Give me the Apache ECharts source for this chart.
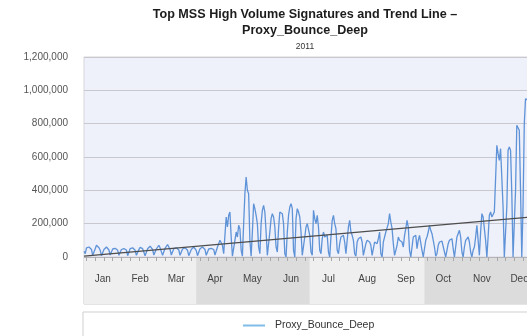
<!DOCTYPE html>
<html>
<head>
<meta charset="utf-8">
<script src="https://cdn.jsdelivr.net/npm/echarts@6/dist/echarts.min.js"></script>
<style>
  html, body { margin: 0; padding: 0; background: #ffffff; }
  #chart { width: 527px; height: 336px; }
</style>
</head>
<body>
<div id="chart"></div>
<script>
// Daily volume of the Proxy_Bounce_Deep signature, 2011, one array per month
const jan = [35000,20000,55000,65000,60000,50000,45000,10000,8000,50000,70000,60000,55000,40000,8000,10000,45000,55000,60000,50000,42000,12000,8000,48000,58000,52000,45000,40000,10000,6000,45000];
const feb = [55000,50000,48000,42000,8000,12000,50000,60000,55000,48000,40000,10000,6000,45000,58000,62000,50000,42000,8000,10000,50000,55000,65000,55000,45000,12000,8000,48000];
const mar = [60000,70000,55000,45000,10000,8000,52000,62000,75000,60000,45000,12000,8000,50000,60000,55000,50000,42000,10000,6000,48000,58000,55000,45000,40000,8000,10000,45000,55000,60000,50000];
const apr = [40000,8000,6000,50000,55000,60000,52000,45000,10000,8000,48000,55000,52000,50000,45000,12000,10000,60000,80000,100000,90000,70000,20000,10000,240000,180000,250000,270000,120000,5000];
const may = [10000,100000,150000,120000,190000,170000,40000,5000,200000,380000,480000,400000,380000,100000,5000,150000,320000,290000,250000,200000,60000,20000,200000,280000,310000,270000,150000,10000,0,150000,230000];
const jun = [260000,240000,180000,60000,30000,170000,270000,280000,260000,200000,20000,0,150000,250000,300000,320000,290000,40000,0,230000,290000,270000,240000,150000,10000,0,120000,180000,200000,190000];
const jul = [130000,30000,10000,280000,230000,200000,250000,180000,40000,20000,110000,150000,120000,130000,130000,30000,0,120000,220000,250000,200000,170000,40000,20000,80000,120000,130000,130000,90000,20000,30000];
const aug = [180000,220000,150000,130000,100000,20000,5000,90000,110000,100000,120000,90000,10000,0,80000,100000,110000,90000,70000,10000,0,90000,100000,80000,110000,150000,20000,0,90000,120000,150000];
const sep = [150000,200000,260000,210000,170000,80000,10000,0,70000,120000,100000,110000,90000,60000,130000,170000,220000,180000,40000,0,60000,120000,110000,130000,50000,100000,130000,120000,40000,0];
const oct = [0,100000,120000,150000,190000,160000,140000,130000,60000,5000,20000,70000,90000,80000,95000,85000,30000,0,40000,80000,100000,90000,110000,50000,0,60000,120000,110000,160000,120000,30000];
const nov = [0,60000,100000,110000,120000,90000,30000,0,40000,60000,120000,190000,100000,10000,150000,260000,240000,250000,100000,0,120000,250000,270000,240000,250000,270000,260000,670000,620000,580000];
const dec = [650000,640000,300000,0,10000,300000,640000,660000,640000,380000,0,10000,400000,790000,780000,760000,400000,0,300000,800000,950000,960000,940000,900000,500000,20000,10000,300000,400000,350000,300000];

// Trend line end points (first and last day of the year)
const trendStart = 5000;
const trendEnd = 243000;

const monthNames = ['Jan','Feb','Mar','Apr','May','Jun','Jul','Aug','Sep','Oct','Nov','Dec'];
const yTicks = [0, 200000, 400000, 600000, 800000, 1000000, 1200000];
const quarterStarts = ['2011-01-01','2011-04-01','2011-07-01','2011-10-01'];
const quarterShades = ['#efefef', '#dcdcdc', '#efefef', '#dcdcdc'];
const seriesName = 'Proxy_Bounce_Deep';

const volumes = [].concat(jan, feb, mar, apr, may, jun, jul, aug, sep, oct, nov, dec);

// one category per day of 2011
const days = [];
for (let i = 0; i < volumes.length; i++) {
  const d = new Date(Date.UTC(2011, 0, 1 + i));
  days.push(d.toISOString().slice(0, 10));
}
const lastDay = days[days.length - 1];

// month names sit at the middle day of each month
function isMidMonth(val) {
  const m = parseInt(val.slice(5, 7), 10);
  const day = parseInt(val.slice(8), 10);
  return m === 2 ? day === 15 : day === 16;
}

const quarterAreas = quarterStarts.map(function (start, i) {
  const end = i + 1 < quarterStarts.length ? quarterStarts[i + 1] : lastDay;
  return [{ xAxis: start, itemStyle: { color: quarterShades[i] } }, { xAxis: end }];
});

const font = 'Liberation Sans, Arial, Helvetica, sans-serif';
const plotLeft = 84;
const plotWidth = 454; // the year runs on past the right edge of the page

const chart = echarts.init(document.getElementById('chart'), null, { renderer: 'canvas' });

chart.setOption({
  animation: false,
  backgroundColor: '#ffffff',
  title: {
    text: 'Top MSS High Volume Signatures and Trend Line –\nProxy_Bounce_Deep',
    subtext: '2011',
    left: 300,
    top: 2,
    textAlign: 'center',
    itemGap: 3,
    textStyle: { fontFamily: font, fontSize: 12.6, fontWeight: 'bold', color: '#1c1c1c', lineHeight: 16 },
    subtextStyle: { fontFamily: font, fontSize: 8.5, color: '#333333', lineHeight: 10 }
  },
  legend: {
    data: [{ name: seriesName, icon: 'rect', itemStyle: { color: '#7fbde6' } }],
    left: 243,
    top: 320,
    padding: 0,
    itemWidth: 22,
    itemHeight: 2,
    textStyle: { fontFamily: font, fontSize: 10.5, color: '#333333', padding: [0, 0, 0, 5] }
  },
  grid: [
    { left: plotLeft, width: plotWidth, top: 57, height: 200, outerBoundsMode: 'none', containLabel: false, show: true, backgroundColor: '#eef0fa', borderColor: '#d6d6dc', borderWidth: 1 },
    { left: plotLeft, width: plotWidth, top: 258, height: 46, outerBoundsMode: 'none', containLabel: false, show: true, backgroundColor: '#efefef', borderColor: '#c9c9c9', borderWidth: 1 },
    { left: 83, width: 460, top: 312, height: 40, outerBoundsMode: 'none', containLabel: false, show: true, backgroundColor: '#ffffff', borderColor: '#cfcfcf', borderWidth: 1 }
  ],
  xAxis: [
    {
      gridIndex: 0,
      type: 'category',
      data: days,
      boundaryGap: false,
      z: 10,
      axisLine: { show: true, lineStyle: { color: '#b4b4b8', width: 1 } },
      axisTick: {
        show: true,
        length: 4,
        interval: function (idx) { return idx % 7 === 2; },
        lineStyle: { color: '#a8a8a8' }
      },
      axisLabel: {
        interval: function (idx, val) { return isMidMonth(val); },
        formatter: function (val) { return monthNames[parseInt(val.slice(5, 7), 10) - 1]; },
        margin: 17,
        fontFamily: font,
        fontSize: 10,
        color: '#444444'
      },
      splitLine: { show: false }
    },
    { gridIndex: 1, type: 'category', data: days, boundaryGap: false, show: false },
    { gridIndex: 2, type: 'value', show: false }
  ],
  yAxis: [
    {
      gridIndex: 0,
      type: 'value',
      min: yTicks[0],
      max: yTicks[yTicks.length - 1],
      interval: yTicks[1] - yTicks[0],
      axisLine: { show: false },
      axisTick: { show: false },
      axisLabel: {
        margin: 16,
        fontFamily: font,
        fontSize: 10,
        color: '#555555',
        formatter: function (v) { return v.toLocaleString('en-US'); }
      },
      splitLine: { show: true, lineStyle: { color: '#c8c8ce', width: 1 } }
    },
    { gridIndex: 1, type: 'value', min: 0, max: 1, show: false },
    { gridIndex: 2, type: 'value', show: false }
  ],
  series: [
    {
      name: 'quarters',
      type: 'line',
      xAxisIndex: 1,
      yAxisIndex: 1,
      data: [],
      z: 1,
      silent: true,
      markArea: { silent: true, data: quarterAreas }
    },
    {
      name: seriesName,
      type: 'line',
      data: volumes,
      symbol: 'none',
      z: 3,
      lineStyle: { color: '#5f93d8', width: 1.3 }
    },
    {
      name: 'trend',
      type: 'line',
      data: [[days[0], trendStart], [lastDay, trendEnd]],
      symbol: 'none',
      z: 4,
      lineStyle: { color: '#4d4d4d', width: 1.2 }
    }
  ]
});
</script>
</body>
</html>
